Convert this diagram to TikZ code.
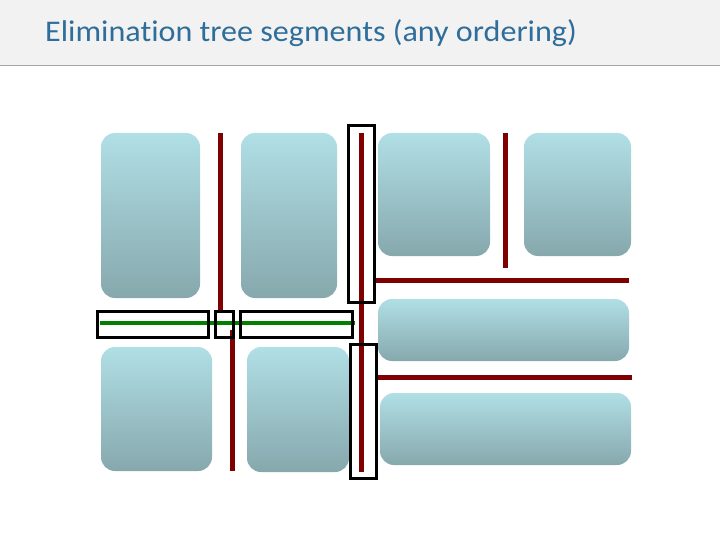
\documentclass[tikz,border=0pt]{standalone}
\usepackage{fontspec}
\newfontfamily\titlefont[Ligatures=NoCommon]{Carlito}
\definecolor{bartop}{HTML}{F2F2F2}
\definecolor{barline}{HTML}{A6A6A6}
\definecolor{titleblue}{RGB}{47,110,155}
\definecolor{boxtop}{HTML}{B0DFE5}
\definecolor{boxbot}{HTML}{86A8AD}
\definecolor{sepred}{HTML}{7F0000}
\definecolor{sepgreen}{HTML}{007F00}

\begin{document}
\begin{tikzpicture}[x=1pt, y=-1pt,
    blk/.style={rounded corners=14pt, top color=boxtop, bottom color=boxbot,
      draw=none, inner sep=0pt},
    sep/.style={draw=sepred, line width=5pt},
    seg/.style={draw, line width=3pt, inner sep=0pt},
  ]
    \useasboundingbox (0,0) rectangle (720,540);
    \fill[bartop] (0,0) rectangle (720,65);
    \draw[barline] (0,65) -- (720,65);
    \node[anchor=base west, inner sep=0pt, text=titleblue, xscale=1.07,
      transform shape, font=\titlefont\fontsize{30}{34}\selectfont] (title) at (45,42)
      {Elimination tree segments (any ordering)};

    % subdomains
    \foreach \n/\a/\b/\c/\d in {
      b1/101/133/200/298, b2/241/133/337/298,
      b3/378/133/490/256, b4/524/133/631/256,
      b5/378/299/629/361, b6/101/347/212/471,
      b7/247/347/349/472, b8/380/393/631/465} {
        \node[blk, minimum width={(\c-\a)*1pt}, minimum height={(\d-\b)*1pt}]
          (\n) at ({(\a+\c)/2},{(\b+\d)/2}) {};
    }

    % separators
    \draw[sep] (220,133) -- (220,312);
    \draw[sep] (232,330) -- (232,471);
    \draw[sep] (361,133) -- (361,472);
    \draw[sep] (505,133) -- (505,268);
    \draw[sep] (375,280) -- (629,280);
    \draw[sep] (378,377) -- (632,377);
    \draw[draw=sepgreen, line width=4pt] (100,323) -- (355,323);

    % segments
    \foreach \n/\a/\b/\c/\d in {
      s1/348/126/374/302, s2/350/344/376/478,
      s3/97/311/208/337, s4/215/311/233/337, s5/240/311/352/337} {
        \node[seg, minimum width={(\c-\a)*1pt}, minimum height={(\d-\b)*1pt}]
          (\n) at ({(\a+\c)/2},{(\b+\d)/2}) {};
    }
\end{tikzpicture}
\end{document}
